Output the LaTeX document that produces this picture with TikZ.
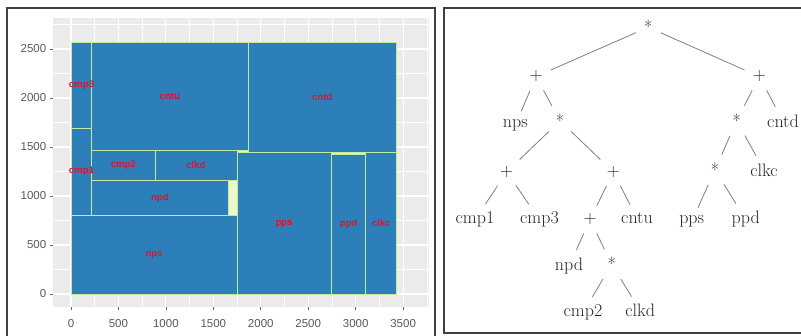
\documentclass[tikz,border=0pt]{standalone}
\usepackage{fontspec}
\setsansfont{Liberation Sans}
\definecolor{plotblue}{HTML}{2C7FB8}
\definecolor{bordery}{HTML}{C4E8A0}
\definecolor{paley}{HTML}{EDF8C8}
\definecolor{panelbg}{HTML}{EBEBEB}
\definecolor{ticktext}{HTML}{5A5A5A}
\definecolor{lblred}{HTML}{E8102A}
\begin{document}
\begin{tikzpicture}[x=1pt,y=-1pt,
  panelframe/.style={draw=black!75,line width=1.2pt},
  gridmajor/.style={draw=white,line width=1.1pt},
  gridminor/.style={draw=white,line width=0.5pt},
  blk/.style={fill=plotblue,draw=bordery,line width=0.9pt},
  gapbox/.style={fill=paley,draw=bordery,line width=0.9pt},
  lbl/.style={text=lblred,font=\sffamily\bfseries\fontsize{9.6}{10}\selectfont,inner sep=0pt},
  ticklbl/.style={text=ticktext,font=\sffamily\fontsize{11.5}{12}\selectfont,inner sep=0pt},
  tickmark/.style={draw=black!60,line width=0.6pt},
  tn/.style={anchor=base,inner sep=2pt,outer sep=0pt,text=black!85,font=\fontsize{18}{21}\selectfont},
  treeedge/.style={draw=black!50,line width=0.8pt,shorten <=7pt,shorten >=7pt}]
\useasboundingbox (0,0) rectangle (801,336);
\fill[white] (0,0) rectangle (801,336);
% ---------------- left panel ----------------
\draw[panelframe] (7,8) rectangle (435,345);
\fill[panelbg] (53,18) rectangle (429,307);
\begin{scope}[shift={(71,294)},x=0.0949pt,y=0.098pt]
  \foreach \v in {250,750,...,3750} \draw[gridminor] (\v,-133) -- (\v,2816);
  \foreach \v in {250,750,...,2750} \draw[gridminor] (-190,\v) -- (3772,\v);
  \foreach \v in {0,500,...,3500} \draw[gridmajor] (\v,-133) -- (\v,2816);
  \foreach \v in {0,500,...,2500} \draw[gridmajor] (-190,\v) -- (3772,\v);
  % blocks
  \path[blk] (0,1690) rectangle (220,2570);
  \path[blk] (0,806) rectangle (220,1690);
  \path[blk] (220,1460) rectangle (1865,2570);
  \path[blk] (1865,1440) rectangle (3430,2570);
  \path[blk] (220,1163) rectangle (885,1460);
  \path[blk] (885,1163) rectangle (1750,1460);
  \path[blk] (220,806) rectangle (1655,1163);
  \path[blk] (0,0) rectangle (1750,806);
  \path[blk] (1750,0) rectangle (2740,1440);
  \path[blk] (2740,0) rectangle (3108,1425);
  \path[blk] (3108,0) rectangle (3430,1440);
  \path[gapbox] (1655,806) rectangle (1750,1163);
  \path[gapbox] (1750,1440) rectangle (1865,1460);
  % labels
  \node[lbl] (Lcmp3) at (110,2130) {cmp3};
  \node[lbl] (Lcmp1) at (110,1248) {cmp1};
  \node[lbl] (Lcntu) at (1042,2015) {cntu};
  \node[lbl] (Lcntd) at (2647,2005) {cntd};
  \node[lbl] (Lcmp2) at (552,1311) {cmp2};
  \node[lbl] (Lclkd) at (1317,1311) {clkd};
  \node[lbl] (Lnpd) at (937,984) {npd};
  \node[lbl] (Lnps) at (875,403) {nps};
  \node[lbl] (Lpps) at (2245,720) {pps};
  \node[lbl] (Lppd) at (2924,712) {ppd};
  \node[lbl] (Lclkc) at (3269,720) {clkc};
  % axes
  \foreach \v in {0,500,...,3500} {
    \draw[tickmark] (\v,-133) -- ++(0pt,-3pt);
    \node[ticklbl,anchor=base,yshift=-20.6pt] (xl\v) at (\v,-133) {\v};
  }
  \foreach \v in {0,500,...,2500} {
    \draw[tickmark] (-190,\v) -- ++(-3pt,0pt);
    \node[ticklbl,anchor=east,xshift=-6.5pt] (yl\v) at (-190,\v) {\v};
  }
\end{scope}
% ---------------- right panel ----------------
\draw[panelframe] (444,8) rectangle (806,333);
\node[tn] (r) at (648.3,34) {*};
\node[tn] (lp) at (536,81) {+};
\node[tn] (rp) at (759.3,81) {+};
\node[tn] (nps) at (515.3,127.5) {nps};
\node[tn] (ls) at (560,127.5) {*};
\node[tn] (rs) at (736.7,127.5) {*};
\node[tn] (cntd) at (783,127.5) {cntd};
\node[tn] (pl3) at (506.7,176.5) {+};
\node[tn] (pr3) at (613.3,176.5) {+};
\node[tn] (s3) at (715,176.5) {*};
\node[tn] (clkc) at (764,176.5) {clkc};
\node[tn] (cmp1) at (475,224) {cmp1};
\node[tn] (cmp3) at (539.5,224) {cmp3};
\node[tn] (p4) at (590,224) {+};
\node[tn] (cntu) at (637,224) {cntu};
\node[tn] (pps) at (691.7,224) {pps};
\node[tn] (ppd) at (745.7,224) {ppd};
\node[tn] (npd) at (569,271) {npd};
\node[tn] (s5) at (611.7,271) {*};
\node[tn] (cmp2) at (583,317) {cmp2};
\node[tn] (clkd) at (640.3,317) {clkd};
\draw[treeedge] (r) -- (lp);
\draw[treeedge] (r) -- (rp);
\draw[treeedge] (lp) -- (nps);
\draw[treeedge] (lp) -- (ls);
\draw[treeedge] (ls) -- (pl3);
\draw[treeedge] (ls) -- (pr3);
\draw[treeedge] (pl3) -- (cmp1);
\draw[treeedge] (pl3) -- (cmp3);
\draw[treeedge] (pr3) -- (p4);
\draw[treeedge] (pr3) -- (cntu);
\draw[treeedge] (p4) -- (npd);
\draw[treeedge] (p4) -- (s5);
\draw[treeedge] (s5) -- (cmp2);
\draw[treeedge] (s5) -- (clkd);
\draw[treeedge] (rp) -- (rs);
\draw[treeedge] (rp) -- (cntd);
\draw[treeedge] (rs) -- (s3);
\draw[treeedge] (rs) -- (clkc);
\draw[treeedge] (s3) -- (pps);
\draw[treeedge] (s3) -- (ppd);
\end{tikzpicture}
\end{document}
